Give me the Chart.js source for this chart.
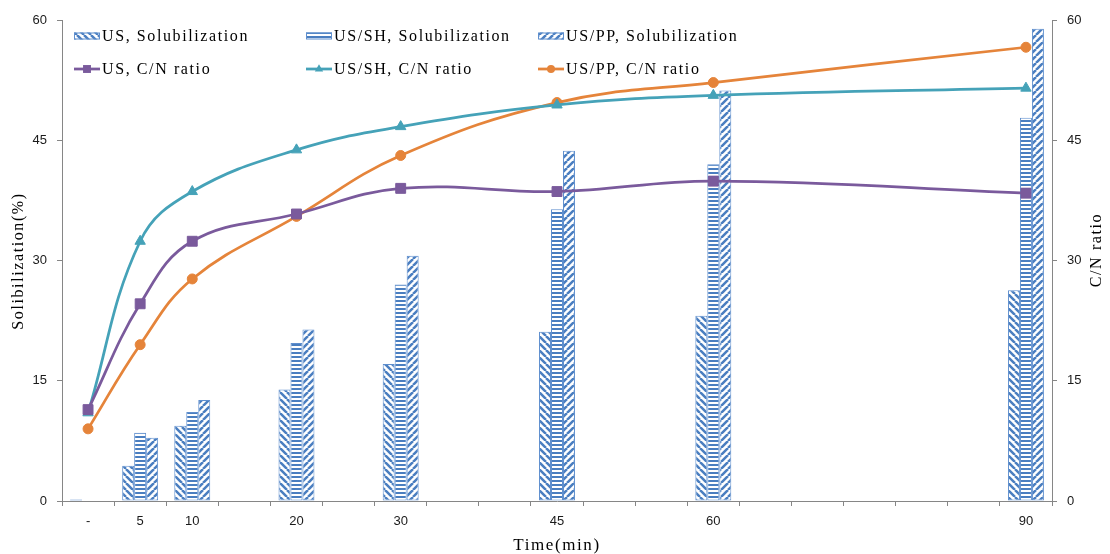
<!DOCTYPE html>
<html><head><meta charset="utf-8">
<script src="https://cdn.jsdelivr.net/npm/chart.js@4.4.1/dist/chart.umd.min.js"></script>
<style>html,body{margin:0;padding:0;background:#fff;}canvas{display:block;}</style>
</head><body>
<canvas id="c" width="1110" height="554"></canvas>
<script>
// ---- data ----
const minutes = [0, 5, 10, 20, 30, 45, 60, 90];
const timeTickLabels = ['-', '5', '10', '20', '30', '45', '60', '90'];
const usSolubilization   = [0.2, 4.4, 9.4, 13.9, 17.1, 21.1, 23.1, 26.3];
const usshSolubilization = [0, 8.5, 11.1, 19.7, 27.0, 36.4, 42.0, 47.8];
const usppSolubilization = [0, 7.9, 12.6, 21.4, 30.6, 43.7, 51.2, 58.9];
const usCN   = [11.4, 24.6, 32.4, 35.8, 39.0, 38.6, 39.9, 38.4];
const usshCN = [11.0, 32.4, 38.6, 43.8, 46.7, 49.4, 50.6, 51.5];
const usppCN = [9.0, 19.5, 27.7, 35.5, 43.1, 49.7, 52.2, 56.6];
const yTicks = [0, 15, 30, 45, 60];

// category slots every 5 minutes (Excel-style category axis)
const STEP = 5;
const slotCount = minutes[minutes.length - 1] / STEP + 1;
const slotLabels = [];
for (let i = 0; i < slotCount; i++) {
  const k = minutes.indexOf(i * STEP);
  slotLabels.push(k >= 0 ? timeTickLabels[k] : '');
}
function toSlots(values) {
  const arr = new Array(slotCount).fill(null);
  minutes.forEach((m, k) => { arr[m / STEP] = values[k]; });
  return arr;
}

// ---- hatch patterns ----
const BLUE = '#4A7EC0';
const BORDER = '#5F8FCE';
function makePattern(kind) {
  const c = document.createElement('canvas');
  const ctx = c.getContext('2d');
  if (kind === 'h') {
    c.width = 4; c.height = 4;
    ctx.fillStyle = '#fff'; ctx.fillRect(0, 0, 4, 4);
    ctx.fillStyle = BLUE; ctx.fillRect(0, 0, 4, 2);
  } else {
    const s = 7;
    c.width = s; c.height = s;
    ctx.fillStyle = '#fff'; ctx.fillRect(0, 0, s, s);
    ctx.strokeStyle = BLUE; ctx.lineWidth = 2.5;
    ctx.beginPath();
    for (const o of [-s, 0, s]) {
      if (kind === 'b') { ctx.moveTo(o, 0); ctx.lineTo(o + s, s); }
      else { ctx.moveTo(o, s); ctx.lineTo(o + s, 0); }
    }
    ctx.stroke();
  }
  return ctx.createPattern(c, 'repeat');
}
const patUS = makePattern('b');
const patSH = makePattern('h');
const patPP = makePattern('f');

const PURPLE = '#7A5A9C', TEAL = '#45A2B8', ORANGE = '#E5843A';
const serif = "'Liberation Serif', 'Times New Roman', serif";
const sans = "'Liberation Sans', Arial, sans-serif";

function barDs(label, data, pat) {
  return { type: 'bar', label, data: toSlots(data), yAxisID: 'y', backgroundColor: pat,
    borderColor: BORDER, borderWidth: 1, borderSkipped: false, order: 2,
    categoryPercentage: 0.69, barPercentage: 1.0 };
}
function lineDs(label, data, color, style, radius) {
  return { type: 'line', label, data: toSlots(data), yAxisID: 'y1', borderColor: color,
    backgroundColor: color, borderWidth: 2.75, pointStyle: style, pointRadius: radius,
    pointBorderColor: color, pointBackgroundColor: color, pointBorderWidth: 1,
    tension: 0.4, spanGaps: true, fill: false, order: 1 };
}

const legendPlugin = {
  id: 'customLegend',
  afterDraw(chart) {
    const ctx = chart.ctx;
    const cols = [74, 306, 538];
    const rows = [36, 69];
    ctx.save();
    ctx.font = '16px ' + serif;
    ctx.letterSpacing = '1.6px';
    ctx.textBaseline = 'middle';
    ctx.fillStyle = '#000';
    chart.data.datasets.forEach((ds, i) => {
      const row = ds.type === 'bar' ? 0 : 1;
      const col = i % 3;
      const x = cols[col], y = rows[row];
      if (ds.type === 'bar') {
        ctx.fillStyle = ds.backgroundColor;
        ctx.fillRect(x, y - 3.5, 26, 7);
        ctx.strokeStyle = BORDER; ctx.lineWidth = 1;
        ctx.strokeRect(x + 0.5, y - 3, 25, 6);
      } else {
        ctx.strokeStyle = ds.borderColor; ctx.lineWidth = 2.75;
        ctx.beginPath(); ctx.moveTo(x, y); ctx.lineTo(x + 26, y); ctx.stroke();
        ctx.fillStyle = ds.borderColor;
        Chart.helpers.drawPoint(ctx, { pointStyle: ds.pointStyle, radius: ds.pointRadius * 0.8, rotation: 0, borderWidth: 0 }, x + 13, y);
      }
      ctx.fillStyle = '#000';
      ctx.fillText(ds.label, x + 28, y + 1);
    });
    ctx.restore();
  }
};

const titlePlugin = {
  id: 'axisTitles',
  afterDraw(chart) {
    const ctx = chart.ctx;
    ctx.save();
    ctx.fillStyle = '#000';
    ctx.textAlign = 'center';
    ctx.textBaseline = 'middle';
    ctx.letterSpacing = '1.6px';
    ctx.font = '17px ' + serif;
    ctx.fillText('Time(min)', 557, 546);
    ctx.font = '16px ' + serif;
    ctx.translate(18.5, 261); ctx.rotate(-Math.PI / 2);
    ctx.fillText('Solibilization(%)', 0, 0);
    ctx.restore();
    ctx.save();
    ctx.fillStyle = '#000';
    ctx.textAlign = 'center';
    ctx.textBaseline = 'middle';
    ctx.letterSpacing = '1.6px';
    ctx.font = '16px ' + serif;
    ctx.translate(1097, 250); ctx.rotate(-Math.PI / 2);
    ctx.fillText('C/N ratio', 0, 0);
    ctx.restore();
  }
};

new Chart(document.getElementById('c'), {
  data: {
    labels: slotLabels,
    datasets: [
      barDs('US, Solubilization', usSolubilization, patUS),
      barDs('US/SH, Solubilization', usshSolubilization, patSH),
      barDs('US/PP, Solubilization', usppSolubilization, patPP),
      lineDs('US, C/N ratio', usCN, PURPLE, 'rect', 7),
      lineDs('US/SH, C/N ratio', usshCN, TEAL, 'triangle', 6),
      lineDs('US/PP, C/N ratio', usppCN, ORANGE, 'circle', 5)
    ]
  },
  options: {
    responsive: false,
    animation: false,
    events: [],
    layout: { padding: { top: 20, left: 0, right: 0, bottom: 0 } },
    plugins: { legend: { display: false }, tooltip: { enabled: false }, title: { display: false } },
    scales: {
      x: {
        type: 'category',
        offset: true,
        grid: { offset: true, drawOnChartArea: false, drawTicks: true, tickLength: 5, color: '#868686', lineWidth: 1 },
        border: { display: true, color: '#868686', width: 1 },
        ticks: { autoSkip: false, maxRotation: 0, minRotation: 0, padding: 8, color: '#1a1a1a', font: { family: sans, size: 13 } },
        afterFit(s) { s.height = 53; }
      },
      y: {
        position: 'left', min: 0, max: 60,
        afterBuildTicks(s) { s.ticks = yTicks.map(v => ({ value: v })); },
        grid: { drawOnChartArea: false, drawTicks: true, tickLength: 5, color: '#868686' },
        border: { display: true, color: '#868686', width: 1 },
        ticks: { padding: 10, color: '#1a1a1a', font: { family: sans, size: 13 } },
        afterFit(s) { s.width = 62; }
      },
      y1: {
        position: 'right', min: 0, max: 60,
        afterBuildTicks(s) { s.ticks = yTicks.map(v => ({ value: v })); },
        grid: { drawOnChartArea: false, drawTicks: true, tickLength: 5, color: '#868686' },
        border: { display: true, color: '#868686', width: 1 },
        ticks: { padding: 10, color: '#1a1a1a', font: { family: sans, size: 13 } },
        afterFit(s) { s.width = 58; }
      }
    }
  },
  plugins: [legendPlugin, titlePlugin]
});
</script>
</body></html>
